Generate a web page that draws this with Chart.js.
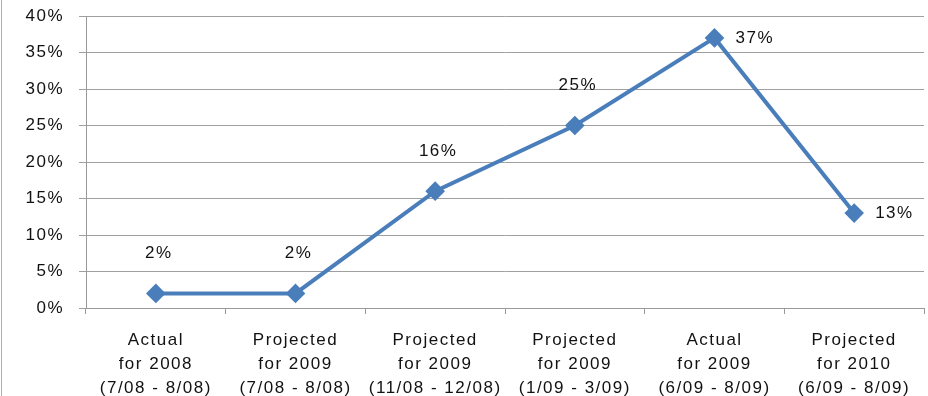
<!DOCTYPE html>
<html>
<head>
<meta charset="utf-8">
<script src="https://cdn.jsdelivr.net/npm/chart.js@4/dist/chart.umd.min.js"></script>
<style>
  html, body { margin: 0; padding: 0; background: #fff; }
  #wrap { position: relative; width: 928px; height: 396px; }
  #edge { position: absolute; left: 1px; top: 0; width: 1px; height: 396px; background: #8db3e2; }
</style>
</head>
<body>
<div id="wrap">
  <canvas id="myChart" width="928" height="396"></canvas>
  <div id="edge"></div>
</div>
<script>
const periods = [
    ['Actual', 'for 2008', '(7/08 - 8/08)'],
    ['Projected', 'for 2009', '(7/08 - 8/08)'],
    ['Projected', 'for 2009', '(11/08 - 12/08)'],
    ['Projected', 'for 2009', '(1/09 - 3/09)'],
    ['Actual', 'for 2009', '(6/09 - 8/09)'],
    ['Projected', 'for 2010', '(6/09 - 8/09)']
];
const percents = [2, 2, 16, 25, 37, 13];
const yTicks = [0, 5, 10, 15, 20, 25, 30, 35, 40];

const font = "'Liberation Sans', Arial, sans-serif";

// the original text is spaced out a little, like old Windows rendering
const spacing = {
    id: 'spacing',
    beforeUpdate(chart) { chart.ctx.letterSpacing = '1.5px'; },
    beforeDraw(chart) { chart.ctx.letterSpacing = '1.5px'; }
};

// draws the "2%" style labels next to each point
const pointLabels = {
    id: 'pointLabels',
    afterDatasetsDraw(chart, args, opts) {
        const ctx = chart.ctx;
        const meta = chart.getDatasetMeta(0);
        ctx.save();
        ctx.font = '17px ' + font;
        ctx.fillStyle = '#111';
        ctx.textBaseline = 'middle';
        meta.data.forEach((pt, i) => {
            const txt = percents[i] + '%';
            if (opts.side[i] === 'right') {
                ctx.textAlign = 'left';
                ctx.fillText(txt, pt.x + 21, pt.y);
            } else {
                ctx.textAlign = 'center';
                ctx.fillText(txt, pt.x + 3, pt.y - 40);
            }
        });
        ctx.restore();
    }
};

const ctx = document.getElementById('myChart').getContext('2d');
const myChart = new Chart(ctx, {
    type: 'line',
    data: {
        labels: periods,
        datasets: [{
            data: percents,
            borderColor: '#4a7ebb',
            backgroundColor: '#4a7ebb',
            borderWidth: 4,
            pointStyle: 'rectRot',
            pointRadius: 7,
            tension: 0
        }]
    },
    options: {
        responsive: false,
        animation: false,
        layout: { autoPadding: false, padding: { top: 16, right: 4, left: 0, bottom: 0 } },
        plugins: {
            legend: { display: false },
            tooltip: { enabled: false },
            pointLabels: { side: ['above', 'above', 'above', 'above', 'right', 'right'] }
        },
        scales: {
            x: {
                offset: true,
                grid: { offset: true, drawOnChartArea: false, color: '#999', tickLength: 6 },
                border: { color: '#999' },
                ticks: { font: { family: font, size: 17, lineHeight: 1.41 }, color: '#111', padding: 14, maxRotation: 0, autoSkip: false },
                afterFit(scale) { scale.height = 88; }
            },
            y: {
                min: 0,
                max: 40,
                afterBuildTicks(scale) { scale.ticks = yTicks.map(v => ({ value: v })); },
                grid: { color: '#a0a0a0', tickLength: 7 },
                border: { color: '#999' },
                ticks: { font: { family: font, size: 17 }, color: '#111', padding: 15, callback: v => v + '%' },
                afterFit(scale) {
                    scale.width = 86;
                    scale.paddingTop = 0;
                    scale.paddingBottom = 0;
                }
            }
        }
    },
    plugins: [spacing, pointLabels]
});
</script>
</body>
</html>
